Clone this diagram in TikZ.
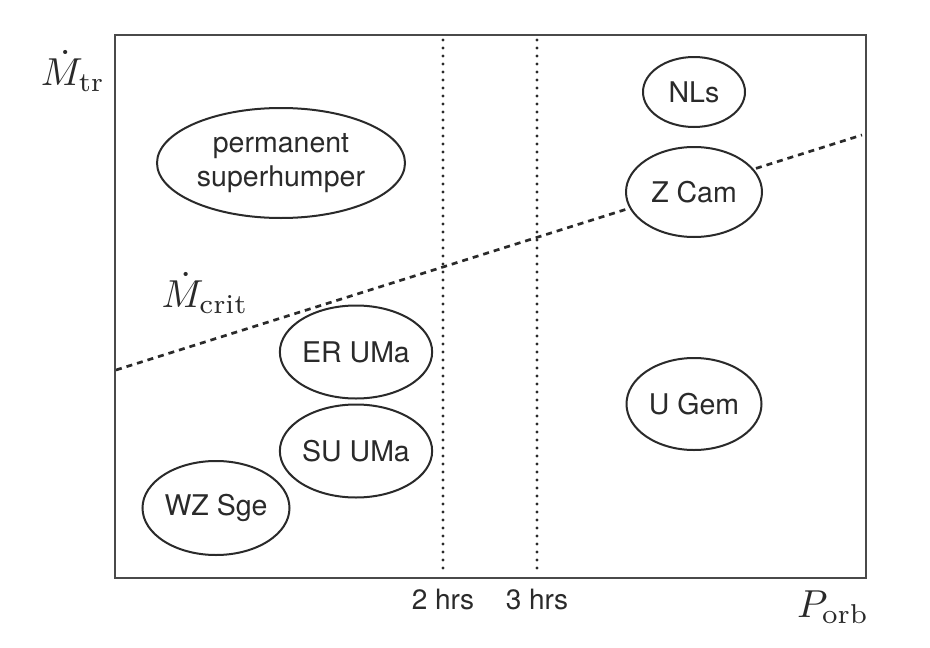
\documentclass[tikz,border=0pt]{standalone}
\usepackage{fontspec}
\setsansfont{TeX Gyre Heros}
\usetikzlibrary{shapes.geometric}
\definecolor{ink}{HTML}{2A2A2A}
\definecolor{framec}{HTML}{4A4A4A}
\begin{document}
\begin{tikzpicture}[x=1pt,y=-1pt,
  cls/.style={ellipse,draw=ink,line width=2pt,fill=white,inner sep=0pt,
    text=ink,font=\sffamily\fontsize{28.5}{34}\selectfont,align=center},
  mathlbl/.style={text=ink,inner sep=0pt,scale=3.9,font=\fontsize{10}{12}\selectfont},
  hrslbl/.style={text=ink,inner sep=0pt,font=\sffamily\fontsize{28}{33}\selectfont},
  crit/.style={draw=ink,line width=2.7pt,dash pattern=on 6pt off 5pt},
  period/.style={draw=ink,line width=3.2pt,line cap=round,dash pattern=on 0pt off 8pt}]
\useasboundingbox (0,0) rectangle (930,648);
\fill[white] (0,0) rectangle (930,648);
% frame
\coordinate (bl) at (115,578);
\coordinate (tr) at (866,35);
% period lines
\coordinate (p2t) at (443,40);
\coordinate (p2b) at (443,573);
\coordinate (p3t) at (537,40);
\coordinate (p3b) at (537,573);
\draw[period] (p2t) -- (p2b);
\draw[period] (p3t) -- (p3b);
% critical rate line
\coordinate (cl) at (116,370);
\coordinate (cr) at (862,135);
\draw[crit] (cl) -- (cr);
\draw[framec,line width=2.5pt] (bl) rectangle (tr);
% classes
\node[cls,minimum width=248pt,minimum height=110pt] (perm) at (281,163) {permanent\\superhumper};
\node[cls,minimum width=102pt,minimum height=70pt] (nls) at (694,92) {NLs};
\node[cls,minimum width=136pt,minimum height=90pt] (zcam) at (694,192) {Z Cam};
\node[cls,minimum width=146pt,minimum height=93pt] (er) at (356,352) {ER UMa};
\node[cls,minimum width=144pt,minimum height=93pt] (su) at (356,451) {SU UMa};
\node[cls,minimum width=147pt,minimum height=94pt] (wz) at (216,508) {WZ Sge};
\node[cls,minimum width=135pt,minimum height=92pt] (ugem) at (694,404) {U Gem};
% labels
\node[mathlbl] (mtr) at (73,71) {$\dot M_{\mathrm{tr}}$};
\node[mathlbl] (mcrit) at (205,293) {$\dot M_{\mathrm{crit}}$};
\node[mathlbl] (porb) at (833,607) {$P_{\mathrm{orb}}$};
\node[hrslbl] (h2) at (443,599) {2 hrs};
\node[hrslbl] (h3) at (537,599) {3 hrs};
\end{tikzpicture}
\end{document}
